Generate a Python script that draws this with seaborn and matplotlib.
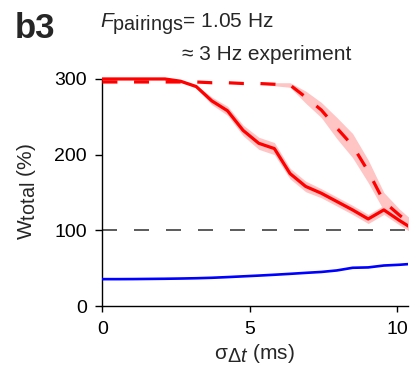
import numpy as np
import pandas as pd
import matplotlib
matplotlib.use("Agg")
import matplotlib.pyplot as plt
import seaborn as sns

try:
    import matplotlib._mathtext as _mt
    _mt.SHRINK_FACTOR = 0.95
except Exception:
    pass

# ---- data ----
sigma = [0.0, 0.53, 1.06, 1.59, 2.12, 2.65, 3.18, 3.71, 4.24, 4.77, 5.30,
         5.83, 6.36, 6.89, 7.42, 7.95, 8.48, 9.01, 9.54, 10.07, 10.60]
w_solid = [300, 300, 300, 300, 300, 297, 290, 271, 258, 232, 215,
           208, 175, 158, 149, 138, 127, 115, 127, 113, 100]
err_solid = [0, 0, 0, 0, 0, 1, 2, 5, 6, 7, 8,
             8, 7, 7, 6, 6, 6, 6, 6, 6, 6]
w_dashed = [296, 296, 296, 296, 296, 296, 296, 295, 295, 294, 294,
            293, 292, 276, 259, 235, 212, 178, 138, 120, 104]
err_dashed = [0, 0, 0, 0, 0, 0, 0, 0, 0, 0, 0,
              2, 3, 8, 10, 14, 16, 15, 12, 8, 6]
w_blue = [35.5, 35.5, 35.6, 35.8, 36.0, 36.3, 36.7, 37.3, 38.2, 39.2, 40.2,
          41.3, 42.5, 43.8, 45.0, 47.0, 50.5, 51.0, 53.5, 54.5, 56.0]
ref_level = 100
xticks = [0, 5, 10]
yticks = [0, 100, 200, 300]

df = pd.DataFrame({"sigma": sigma, "solid": w_solid, "dashed": w_dashed,
                   "blue": w_blue})

sns.set_style("ticks")
plt.rcParams["font.family"] = ["Liberation Sans", "DejaVu Sans"]
plt.rcParams["mathtext.fontset"] = "custom"
plt.rcParams["mathtext.rm"] = "Liberation Sans"
plt.rcParams["mathtext.it"] = "Liberation Sans:italic"
plt.rcParams["mathtext.bf"] = "Liberation Sans:bold"

fig = plt.figure(figsize=(4.2, 3.73), dpi=100)
ax = fig.add_axes([0.2417, 0.1796, 0.7298, 0.6148])

s = np.array(sigma)
ax.fill_between(s, np.array(w_solid) - np.array(err_solid),
                np.array(w_solid) + np.array(err_solid),
                color="#ffc4c4", lw=0, zorder=1)
ax.fill_between(s, np.array(w_dashed) - np.array(err_dashed),
                np.array(w_dashed) + np.array(err_dashed),
                color="#ffc4c4", lw=0, zorder=1)

ax.axhline(ref_level, color="#404040", lw=1.2, dashes=(9, 10.2), zorder=2)
sns.lineplot(data=df, x="sigma", y="dashed", ax=ax, color="#ff0000", lw=2.3,
             zorder=3)
ax.lines[-1].set_dashes((4.7, 5.2))
sns.lineplot(data=df, x="sigma", y="solid", ax=ax, color="#ff0000", lw=2.3,
             zorder=4)
sns.lineplot(data=df, x="sigma", y="blue", ax=ax, color="#0000ff", lw=1.9,
             zorder=4)

ax.set_xlim(-0.03, 10.36)
ax.set_ylim(0, 303)
ax.set_xticks(xticks)
ax.set_yticks(yticks)
ax.spines["top"].set_visible(False)
ax.spines["right"].set_visible(False)
ax.spines["left"].set_bounds(0, 300)
for sp in ("left", "bottom"):
    ax.spines[sp].set_linewidth(1.0)
    ax.spines[sp].set_color("black")
ax.tick_params(axis="both", direction="out", length=5, width=1.0,
               labelsize=14, colors="black")
ax.tick_params(axis="y", pad=5.5)
ax.tick_params(axis="x", length=4.5, pad=6)

ax.set_ylabel(r"W$_{\mathrm{total}}$ (%)", fontsize=15, labelpad=12)
ax.set_xlabel(r"σ$_{\Delta \mathit{t}}$ (ms)", fontsize=15, labelpad=3)

fig.text(15 / 420, 1 - 38.3 / 373, "b3", fontsize=25, fontweight="bold",
         va="baseline", ha="left")
fig.text(100 / 420, 1 - 27.5 / 373, r"$\mathit{F}_{\mathrm{pairings}}$= 1.05 Hz",
         fontsize=15, va="baseline", ha="left")
fig.text(182 / 420, 1 - 60 / 373, "≈ 3 Hz experiment",
         fontsize=15, va="baseline", ha="left")

fig.savefig("out.png", dpi=100)
